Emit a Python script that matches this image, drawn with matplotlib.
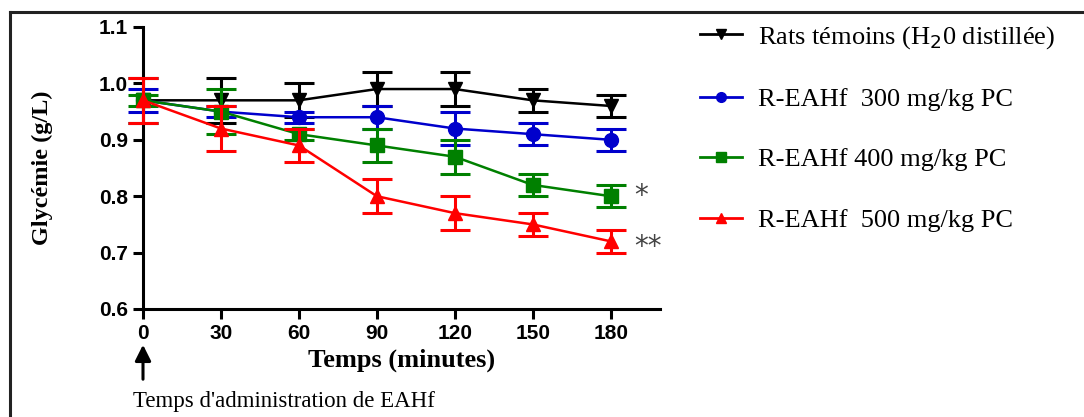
import numpy as np
import matplotlib
matplotlib.use("Agg")
import matplotlib.pyplot as plt
from matplotlib.lines import Line2D

# donnees
temps = [0, 30, 60, 90, 120, 150, 180]
temoin = [0.97, 0.97, 0.97, 0.99, 0.99, 0.97, 0.96]
temoin_err = [0.04, 0.04, 0.03, 0.03, 0.03, 0.02, 0.02]
eahf300 = [0.97, 0.95, 0.94, 0.94, 0.92, 0.91, 0.90]
eahf300_err = [0.02, 0.01, 0.01, 0.02, 0.03, 0.02, 0.02]
eahf400 = [0.97, 0.95, 0.91, 0.89, 0.87, 0.82, 0.80]
eahf400_err = [0.01, 0.04, 0.01, 0.03, 0.03, 0.02, 0.02]
eahf500 = [0.97, 0.92, 0.89, 0.80, 0.77, 0.75, 0.72]
eahf500_err = [0.04, 0.04, 0.03, 0.03, 0.03, 0.02, 0.02]

labels = ["Rats témoins (H$_2$0 distillée)", "R-EAHf  300 mg/kg PC",
          "R-EAHf 400 mg/kg PC", "R-EAHf  500 mg/kg PC"]
couleurs = ["black", "#0000cc", "#008000", "#ff0000"]
marqueurs = ["v", "o", "s", "^"]

fig = plt.figure(figsize=(10.84, 4.17), dpi=100)
ax = fig.add_axes([143/1084, 1-309/417, (660-143)/1084, (309-27)/417])

series = [(temoin, temoin_err), (eahf300, eahf300_err),
          (eahf400, eahf400_err), (eahf500, eahf500_err)]
handles = []
for i, (y, e) in enumerate(series):
    c = ax.errorbar(temps, y, yerr=e, color=couleurs[i], marker=marqueurs[i],
                    markersize=10, lw=1.8, elinewidth=2.2, capsize=11, capthick=2.2,
                    zorder=3+i, clip_on=False)
    for art in c.lines[1] + c.lines[2]:
        art.set_clip_on(False)
    c.lines[0].set_clip_on(False)
    handles.append(Line2D([], [], color=couleurs[i], marker=marqueurs[i],
                          markersize=7, lw=2))

ax.set_xlim(0, 199)
ax.set_ylim(0.6, 1.1)
ax.set_xticks(temps)
ax.set_yticks([0.6, 0.7, 0.8, 0.9, 1.0, 1.1])
ax.set_yticklabels(["0.6", "0.7", "0.8", "0.9", "1.0", "1.1"])
for s in ["top", "right"]:
    ax.spines[s].set_visible(False)
for s in ["left", "bottom"]:
    ax.spines[s].set_linewidth(2.2)
ax.tick_params(direction="out", length=7, width=2.2, labelsize=15, pad=4)
for lab in ax.get_xticklabels() + ax.get_yticklabels():
    lab.set_fontfamily("Liberation Sans")
    lab.set_fontweight("bold")

ax.set_ylabel("Glycémie (g/L)", family="Liberation Serif", fontweight="bold",
              fontsize=17.5, labelpad=33)
ax.set_xlabel("Temps (minutes)", family="Liberation Serif", fontweight="bold",
              fontsize=19, labelpad=4)

# etoiles
ax.text(189, 0.80, "*", fontsize=20, color="#444444", va="center", ha="left")
ax.text(189, 0.71, "**", fontsize=20, color="#444444", va="center", ha="left")

# fleche d'administration
ax.annotate("", xy=(143/1084, 1-342/417), xytext=(143/1084, 1-382/417),
            xycoords="figure fraction", textcoords="figure fraction",
            arrowprops=dict(arrowstyle="-|>", color="black", lw=2.2,
                            mutation_scale=24))
fig.text(133/1084, 1-402/417, "Temps d'administration de EAHf",
         family="Liberation Serif", fontsize=16.5, va="center", ha="left")

# cadre
fig.add_artist(Line2D([10/1084, 10/1084], [0, 1-12/417], color="#222222", lw=2.2))
fig.add_artist(Line2D([10/1084, 1], [1-12/417, 1-12/417], color="#222222", lw=2.2))

leg = fig.legend(handles, labels, loc="upper left",
                 bbox_to_anchor=(676/1084, 1-0/417), frameon=False,
                 prop={"family": "Liberation Serif", "size": 19},
                 handlelength=1.6, handletextpad=0.6, labelspacing=1.4)

fig.savefig("out.png", dpi=100)
